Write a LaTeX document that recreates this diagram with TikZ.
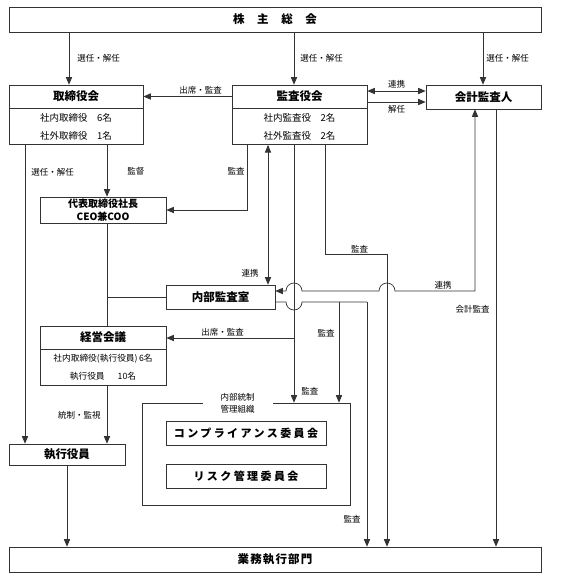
\documentclass[tikz,border=0pt]{standalone}
\usepackage{fontspec}
\setmainfont{Noto Sans CJK JP}
\usepackage{tikz}
\usetikzlibrary{positioning}
\usetikzlibrary{arrows}

\tikzset{
  box/.style={draw, inner sep=0pt, font=\fontsize{11.5}{13}\selectfont\bfseries},
  rows/.style={draw, inner sep=0pt, align=center, font=\fontsize{9.5}{18}\selectfont},
  lbl/.style={font=\fontsize{8.5}{10}\selectfont, inner sep=1pt, text=black}
}

\begin{document}
\begin{tikzpicture}[x=1pt,y=-1pt,>=triangle 45,line width=0.7pt,draw=black!80]
    \useasboundingbox (0,0) rectangle (567,579);
    % boxes
    \node[box, minimum width=532pt, minimum height=25pt] (meeting) at (275,19.5) {株\hspace{1.1em}主\hspace{1.1em}総\hspace{1.1em}会};
    \node[box, minimum width=134pt, minimum height=23pt] (board) at (76,96.5) {取締役会};
    \node[rows, minimum width=134pt, minimum height=36pt, below=0pt of board] (boardmem) {社内取締役\hspace{1em}6名\\社外取締役\hspace{1em}1名};
    \node[box, minimum width=135pt, minimum height=23pt] (audit) at (299.5,96.5) {監査役会};
    \node[rows, minimum width=135pt, minimum height=36pt, below=0pt of audit] (auditmem) {社内監査役\hspace{1em}2名\\社外監査役\hspace{1em}2名};
    \node[box, minimum width=115pt, minimum height=24pt] (accountant) at (483.5,97) {会計監査人};
    \node[box, minimum width=126pt, minimum height=26pt, align=center, font=\fontsize{10}{12.5}\selectfont\bfseries] (ceo) at (103,210) {代表取締役社長\\CEO兼COO};
    \node[box, minimum width=109pt, minimum height=24pt] (internal) at (220.5,297) {内部監査室};
    \node[box, minimum width=126pt, minimum height=23pt] (mgmt) at (103,337.5) {経営会議};
    \node[rows, minimum width=126pt, minimum height=36pt, below=0pt of mgmt, font=\fontsize{8.7}{18}\selectfont] (mgmtmem) {社内取締役(執行役員)\,6名\\執行役員\hspace{1.5em}10名};
    \node[box, minimum width=116pt, minimum height=21pt] (exec) at (67,454.5) {執行役員};
    \node[draw, minimum width=208pt, minimum height=102pt] (control) at (246,454) {};
    \node[lbl, fill=white, align=center, inner xsep=18pt, inner ysep=0pt, font=\fontsize{8.5}{12}\selectfont] (controltitle) at (237.5,403) {内部統制\\管理組織};
    \node[box, minimum width=160pt, minimum height=24pt, font=\fontsize{11}{13}\selectfont\bfseries\addfontfeatures{LetterSpace=22}] (comp) at (246,433) {コンプライアンス委員会};
    \node[box, minimum width=160pt, minimum height=24pt, font=\fontsize{11}{13}\selectfont\bfseries\addfontfeatures{LetterSpace=22}] (risk) at (246,476) {リスク管理委員会};
    \node[box, minimum width=532pt, minimum height=25pt, font=\fontsize{11.5}{13}\selectfont\bfseries\addfontfeatures{LetterSpace=10}] (business) at (275,559.5) {業務執行部門};

    % shareholders
    \draw[->] (meeting.south -| 69,0) -- (board.north -| 69,0) node[lbl, midway, right=7pt] {選任・解任};
    \draw[->] (meeting.south -| 294,0) -- (audit.north -| 294,0) node[lbl, midway, right=5pt] {選任・解任};
    \draw[->] (meeting.south -| 483,0) -- (accountant.north -| 483,0) node[lbl, midway, right=2pt] {選任・解任};

    % auditors
    \draw[->] (audit.west) -- (board.east) node[lbl, pos=0.35, above=1pt] {出席・監査};
    \draw[<->] (audit.east |- 0,91) -- (accountant.west |- 0,91) node[lbl, midway, above=1pt] {連携};
    \draw[->] (audit.east |- 0,102) -- (accountant.west |- 0,102) node[lbl, midway, below=2pt] {解任};
    \draw[->] (auditmem.south -| 247,0) |- (ceo.east) node[lbl, pos=0.2, left=1pt] {監査};
    \draw[<->] (auditmem.south -| 268,0) -- (internal.north -| 268,0) node[lbl, pos=0.92, left=8pt] {連携};
    \draw[->] (auditmem.south -| 294,0) -- (control.north -| 294,0) node[lbl, pos=0.957, right=6pt] {監査};
    \coordinate (attend) at (294,338);
    \draw[->] (attend) -- (attend -| mgmt.east) node[lbl, pos=0.56, above=0pt] {出席・監査};
    \draw[->] (auditmem.south -| 325,0) |- node[lbl, pos=0.78, above=0pt] {監査} (387,254) -- (business.north -| 387,0);

    % board line
    \draw[->] (boardmem.south -| 25,0) -- (exec.north -| 25,0) node[lbl, pos=0.09, right=5pt] {選任・解任};
    \draw[->] (boardmem.south -| 107,0) -- (ceo.north -| 107,0) node[lbl, midway, right=19pt] {監督};
    \draw (ceo.south -| 107,0) -- (mgmt.north -| 107,0);
    \draw (internal.west) -- (internal.west -| 107,0);
    \draw[->] (mgmtmem.south -| 107,0) -- (exec.north -| 107,0) node[lbl, midway, left=5pt] {統制・監視};
    \draw[->] (exec.south) -- (business.north -| exec.south);

    % accountant
    \draw[<->] (accountant.south -| 475,0) |- node[lbl, pos=0.7, above=0pt] {連携} (395,291)
        arc[start angle=0, end angle=180, radius=8pt] -- (302,291)
        arc[start angle=0, end angle=180, radius=8pt] -- ([yshift=6pt]internal.east);
    \draw[->] (accountant.south -| 496,0) -- (business.north -| 496,0) node[lbl, pos=0.457, left=5pt] {会計監査};

    % internal audit
    \coordinate (auditsplit) at (339,302);
    \coordinate (auditcorner) at (367,302);
    \draw ([yshift=-5pt]internal.east) -- (286,302)
        arc[start angle=180, end angle=360, radius=8pt] -- (auditcorner);
    \draw[->] (auditsplit) -- (auditsplit |- control.north) node[lbl, pos=0.31, left=3pt] {監査};
    \draw[->] (auditcorner) -- (auditcorner |- business.north) node[lbl, pos=0.886, left=5pt] {監査};
\end{tikzpicture}
\end{document}
